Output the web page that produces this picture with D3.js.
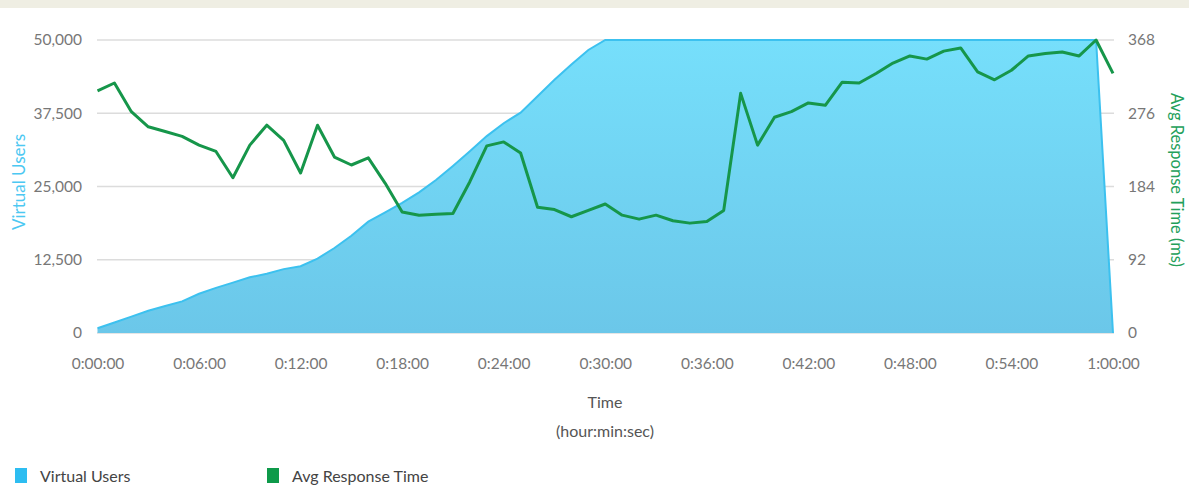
<!DOCTYPE html>
<html><head><meta charset="utf-8">
<script src="https://cdn.jsdelivr.net/npm/d3@7"></script>
<style>body{margin:0;background:#fff;}svg{display:block;font-family:Lato,"Open Sans",sans-serif;}</style>
</head><body><svg id="c" width="1189" height="488"></svg>
<script>
// minutes since start
const minutes = d3.range(0, 61);
const virtualUsers = [800,1800,2800,3800,4600,5400,6700,7700,8600,9500,10100,10900,11400,12700,14500,16600,19000,20600,22200,24000,26100,28500,31000,33600,35800,37600,40400,43200,45800,48300,50000,50000,50000,50000,50000,50000,50000,50000,50000,50000,50000,50000,50000,50000,50000,50000,50000,50000,50000,50000,50000,50000,50000,50000,50000,50000,50000,50000,50000,50000,0];
const avgResponse = [304,314,278,259,253,247,236,228,195,236,261,242,201,261,221,211,220,188,152,148,149,150,190,235,240,226,158,155,146,154,162,148,143,148,141,138,140,154,301,236,271,278,289,286,315,314,326,339,348,344,354,358,328,318,330,348,351,353,348,368,326];
const xTicks = [0,6,12,18,24,30,36,42,48,54,60];
const leftTicks = [0,12500,25000,37500,50000];
const rightTicks = [0,92,184,276,368];

const svg = d3.select("#c");
svg.append("rect").attr("x",0).attr("y",0).attr("width",1189).attr("height",8).attr("fill","#efeee3");

const x = d3.scaleLinear().domain([0,60]).range([97.5,1113]);
const yL = d3.scaleLinear().domain([0,50000]).range([333,40]);
const yR = d3.scaleLinear().domain([0,368]).range([333,40]);

const defs = svg.append("defs");
const g = defs.append("linearGradient").attr("id","ag").attr("x1",0).attr("y1",0).attr("x2",0).attr("y2",1);
g.append("stop").attr("offset","0%").attr("stop-color","#76dffb");
g.append("stop").attr("offset","100%").attr("stop-color","#6bc7e9");

// gridlines
svg.append("g").selectAll("line").data(leftTicks).join("line")
  .attr("x1",97).attr("x2",1114).attr("y1",d=>yL(d)).attr("y2",d=>yL(d))
  .attr("stroke","#dcdcdc").attr("stroke-width",1.5);

const data = minutes.map((m,i)=>({m, vu:virtualUsers[i], rt:avgResponse[i]}));

svg.append("path").datum(data)
  .attr("d", d3.area().x(d=>x(d.m)).y0(yL(0)).y1(d=>yL(d.vu)))
  .attr("fill","url(#ag)");
svg.append("path").datum(data)
  .attr("d", d3.line().x(d=>x(d.m)).y(d=>yL(d.vu)))
  .attr("fill","none").attr("stroke","#3cc1ef").attr("stroke-width",2);

svg.append("path").datum(data)
  .attr("d", d3.line().x(d=>x(d.m)).y(d=>yR(d.rt)))
  .attr("fill","none").attr("stroke","#16964a").attr("stroke-width",3).attr("stroke-linejoin","round");

// axes
const fmtTime = m => `${Math.floor(m/60)}:${String(m%60).padStart(2,"0")}:00`;
const ax = svg.append("g").attr("transform","translate(0,352)")
  .call(d3.axisBottom(x).tickValues(xTicks).tickFormat(fmtTime).tickSize(0).tickPadding(6));
const axL = svg.append("g").attr("transform","translate(82,0)")
  .call(d3.axisLeft(yL).tickValues(leftTicks).tickFormat(d3.format(",")).tickSize(0).tickPadding(0));
const axR = svg.append("g").attr("transform","translate(1128,0)")
  .call(d3.axisRight(yR).tickValues(rightTicks).tickSize(0).tickPadding(0));
[ax,axL,axR].forEach(a=>{
  a.select(".domain").remove();
  a.selectAll("text").attr("fill","#777").style("font-family","Lato").style("font-size","15.5px");
});

svg.append("text").attr("x",605).attr("y",408).attr("text-anchor","middle")
  .attr("fill","#555").style("font-size","16px").text("Time");
svg.append("text").attr("x",605).attr("y",437).attr("text-anchor","middle")
  .attr("fill","#555").style("font-size","16px").text("(hour:min:sec)");

svg.append("text").attr("transform","translate(25,182) rotate(-90)").attr("text-anchor","middle")
  .attr("fill","#4cc8f2").style("font-size","17px").text("Virtual Users");
svg.append("text").attr("transform","translate(1171,180) rotate(90)").attr("text-anchor","middle")
  .attr("fill","#23a05a").style("font-size","16.5px").text("Avg Response Time (ms)");

// legend
const legend = [{label:"Virtual Users", color:"#2dbdf1", x:15},{label:"Avg Response Time", color:"#0e9a4a", x:267}];
const lg = svg.append("g").selectAll("g").data(legend).join("g").attr("transform",d=>`translate(${d.x},468)`);
lg.append("rect").attr("width",12).attr("height",15).attr("fill",d=>d.color);
lg.append("text").attr("x",25).attr("y",14).attr("fill","#444").style("font-size","16px").text(d=>d.label);
</script></body></html>
